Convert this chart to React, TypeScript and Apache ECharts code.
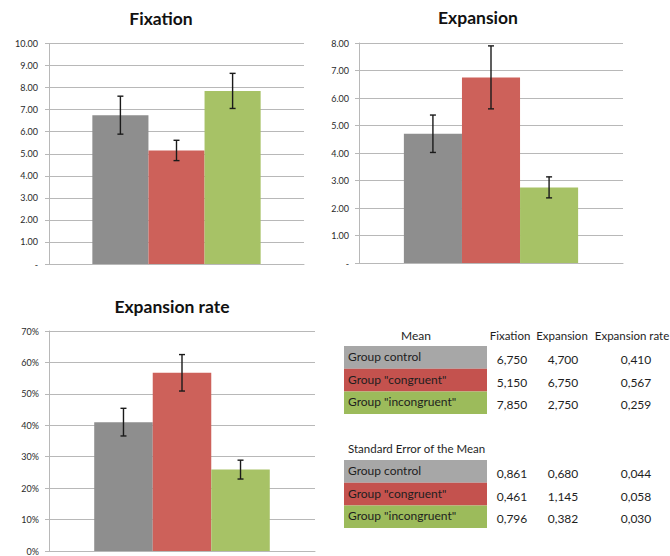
import React, { useEffect, useRef } from "react";
import * as echarts from "echarts";

const groups = ["Group control", 'Group "congruent"', 'Group "incongruent"'];
const columns = ["Fixation", "Expansion", "Expansion rate"];

const fixationMean = [6.75, 5.15, 7.85];
const expansionMean = [4.7, 6.75, 2.75];
const rateMean = [0.41, 0.567, 0.259];

const fixationSE = [0.861, 0.461, 0.796];
const expansionSE = [0.68, 1.145, 0.382];
const rateSE = [0.044, 0.058, 0.03];

const fixationTicks = { min: 0, max: 10, interval: 1 };
const expansionTicks = { min: 0, max: 8, interval: 1 };
const rateTicks = { min: 0, max: 0.7, interval: 0.1 };

const barColors = ["#8e8e8e", "#cd615a", "#a7c266"];
const rowColors = ["#a7a7a7", "#c4524e", "#9cbb5b"];

const FONT = "Lato, 'Open Sans', sans-serif";
const GAP = 0.34;

function fmtComma(v: number) {
  return v.toFixed(3).replace(".", ",");
}

const App: React.FC = () => {
  const ref = useRef<HTMLDivElement>(null);

  useEffect(() => {
    if (!ref.current) return;
    const chart = echarts.init(ref.current, undefined, { renderer: "svg" });

    const charts = [
      { title: "Fixation", mean: fixationMean, se: fixationSE, ticks: fixationTicks, grid: { left: 49, top: 43.5, width: 255, height: 220.5 }, fmt: (v: number) => (v === 0 ? "-" : v.toFixed(2)), margin: 11, titlePos: [161, 18] },
      { title: "Expansion", mean: expansionMean, se: expansionSE, ticks: expansionTicks, grid: { left: 359, top: 43, width: 264, height: 220 }, fmt: (v: number) => (v === 0 ? "-" : v.toFixed(2)), margin: 10, titlePos: [478, 17] },
      { title: "Expansion rate", mean: rateMean, se: rateSE, ticks: rateTicks, grid: { left: 49, top: 331, width: 266, height: 220 }, fmt: (v: number) => Math.round(v * 100) + "%", margin: 10, titlePos: [172, 306] },
    ];

    const grid: any[] = [];
    const xAxis: any[] = [];
    const yAxis: any[] = [];
    const series: any[] = [];
    const graphic: any[] = [];

    charts.forEach((c, i) => {
      grid.push({ ...c.grid, containLabel: false });
      xAxis.push({
        type: "category",
        gridIndex: i,
        data: ["Mean"],
        axisLine: { show: true, lineStyle: { color: "#b8b8b8", width: 1 } },
        axisTick: { show: false },
        axisLabel: { show: false },
      });
      yAxis.push({
        type: "value",
        gridIndex: i,
        min: c.ticks.min,
        max: c.ticks.max,
        interval: c.ticks.interval,
        axisLine: { show: true, lineStyle: { color: "#b8b8b8", width: 1 } },
        axisTick: { show: true, length: 4, lineStyle: { color: "#b8b8b8" } },
        splitLine: { show: true, lineStyle: { color: "#b8b8b8", width: 1 } },
        axisLabel: { formatter: c.fmt, fontSize: 9, color: "#2a2a2a", fontFamily: FONT, margin: c.margin },
      });
      groups.forEach((g, gi) => {
        series.push({
          type: "bar",
          name: g + " " + c.title,
          xAxisIndex: i,
          yAxisIndex: i,
          data: [c.mean[gi]],
          itemStyle: { color: barColors[gi] },
          barGap: "0%",
          barCategoryGap: GAP * 100 + "%",
        });
      });
      series.push({
        type: "custom",
        xAxisIndex: i,
        yAxisIndex: i,
        encode: { x: 0, y: 1 },
        data: c.mean.map((m, gi) => [0, m, c.se[gi], gi]),
        z: 10,
        renderItem: (params: any, api: any) => {
          const mean = api.value(1);
          const se = api.value(2);
          const gi = api.value(3);
          const band = api.size([1, 0])[0];
          const barW = (band * (1 - GAP)) / 3;
          const base = api.coord([0, mean]);
          const cx = base[0] + (gi - 1) * barW;
          const yt = api.coord([0, mean + se])[1];
          const yb = api.coord([0, mean - se])[1];
          const cap = 3;
          const st = { stroke: "#1a1a1a", lineWidth: 1.4 };
          return {
            type: "group",
            children: [
              { type: "line", shape: { x1: cx, y1: yt, x2: cx, y2: yb }, style: st },
              { type: "line", shape: { x1: cx - cap, y1: yt, x2: cx + cap, y2: yt }, style: st },
              { type: "line", shape: { x1: cx - cap, y1: yb, x2: cx + cap, y2: yb }, style: st },
            ],
          };
        },
      });
      graphic.push({
        type: "text",
        x: c.titlePos[0],
        y: c.titlePos[1],
        style: {
          text: c.title,
          font: `bold 17.5px ${FONT}`,
          fill: "#111",
          align: "center",
          verticalAlign: "middle",
          textAlign: "center",
          textVerticalAlign: "middle",
        },
      });
    });

    // Table
    const txt = (text: string, x: number, y: number, align: string, size = 12) => ({
      type: "text",
      x,
      y,
      style: {
        text,
        font: `${size}px ${FONT}`,
        fill: "#1e1e1e",
        align,
        verticalAlign: "middle",
        textAlign: align,
        textVerticalAlign: "middle",
      },
    });
    const colX = [512, 563, 636];
    const headX = [510, 562, 632];
    graphic.push(txt("Mean", 416, 335, "center"));
    columns.forEach((col, ci) => graphic.push(txt(col, headX[ci], 335, "center", 11.5)));

    const blocks = [
      { top: 346, values: [fixationMean, expansionMean, rateMean] },
      { top: 460, values: [fixationSE, expansionSE, rateSE] },
    ];
    graphic.push(txt("Standard Error of the Mean", 348, 448, "left", 11.5));
    const rowH = 22.7;
    blocks.forEach((b) => {
      groups.forEach((g, gi) => {
        const y0 = b.top + gi * rowH;
        graphic.push({
          type: "rect",
          shape: { x: 344, y: y0, width: 143, height: rowH },
          style: { fill: rowColors[gi] },
        });
        graphic.push(txt(g, 348, y0 + rowH / 2 - 1, "left"));
        b.values.forEach((arr, ci) => {
          graphic.push(txt(fmtComma(arr[gi]), colX[ci], y0 + rowH / 2 + 2, "center"));
        });
      });
    });

    chart.setOption({
      animation: false,
      backgroundColor: "#ffffff",
      grid,
      xAxis,
      yAxis,
      series,
      graphic,
    });

    return () => chart.dispose();
  }, []);

  return (
    <div
      ref={ref}
      style={{ position: "absolute", left: 0, top: 0, width: 670, height: 556 }}
    />
  );
};

export default App;
